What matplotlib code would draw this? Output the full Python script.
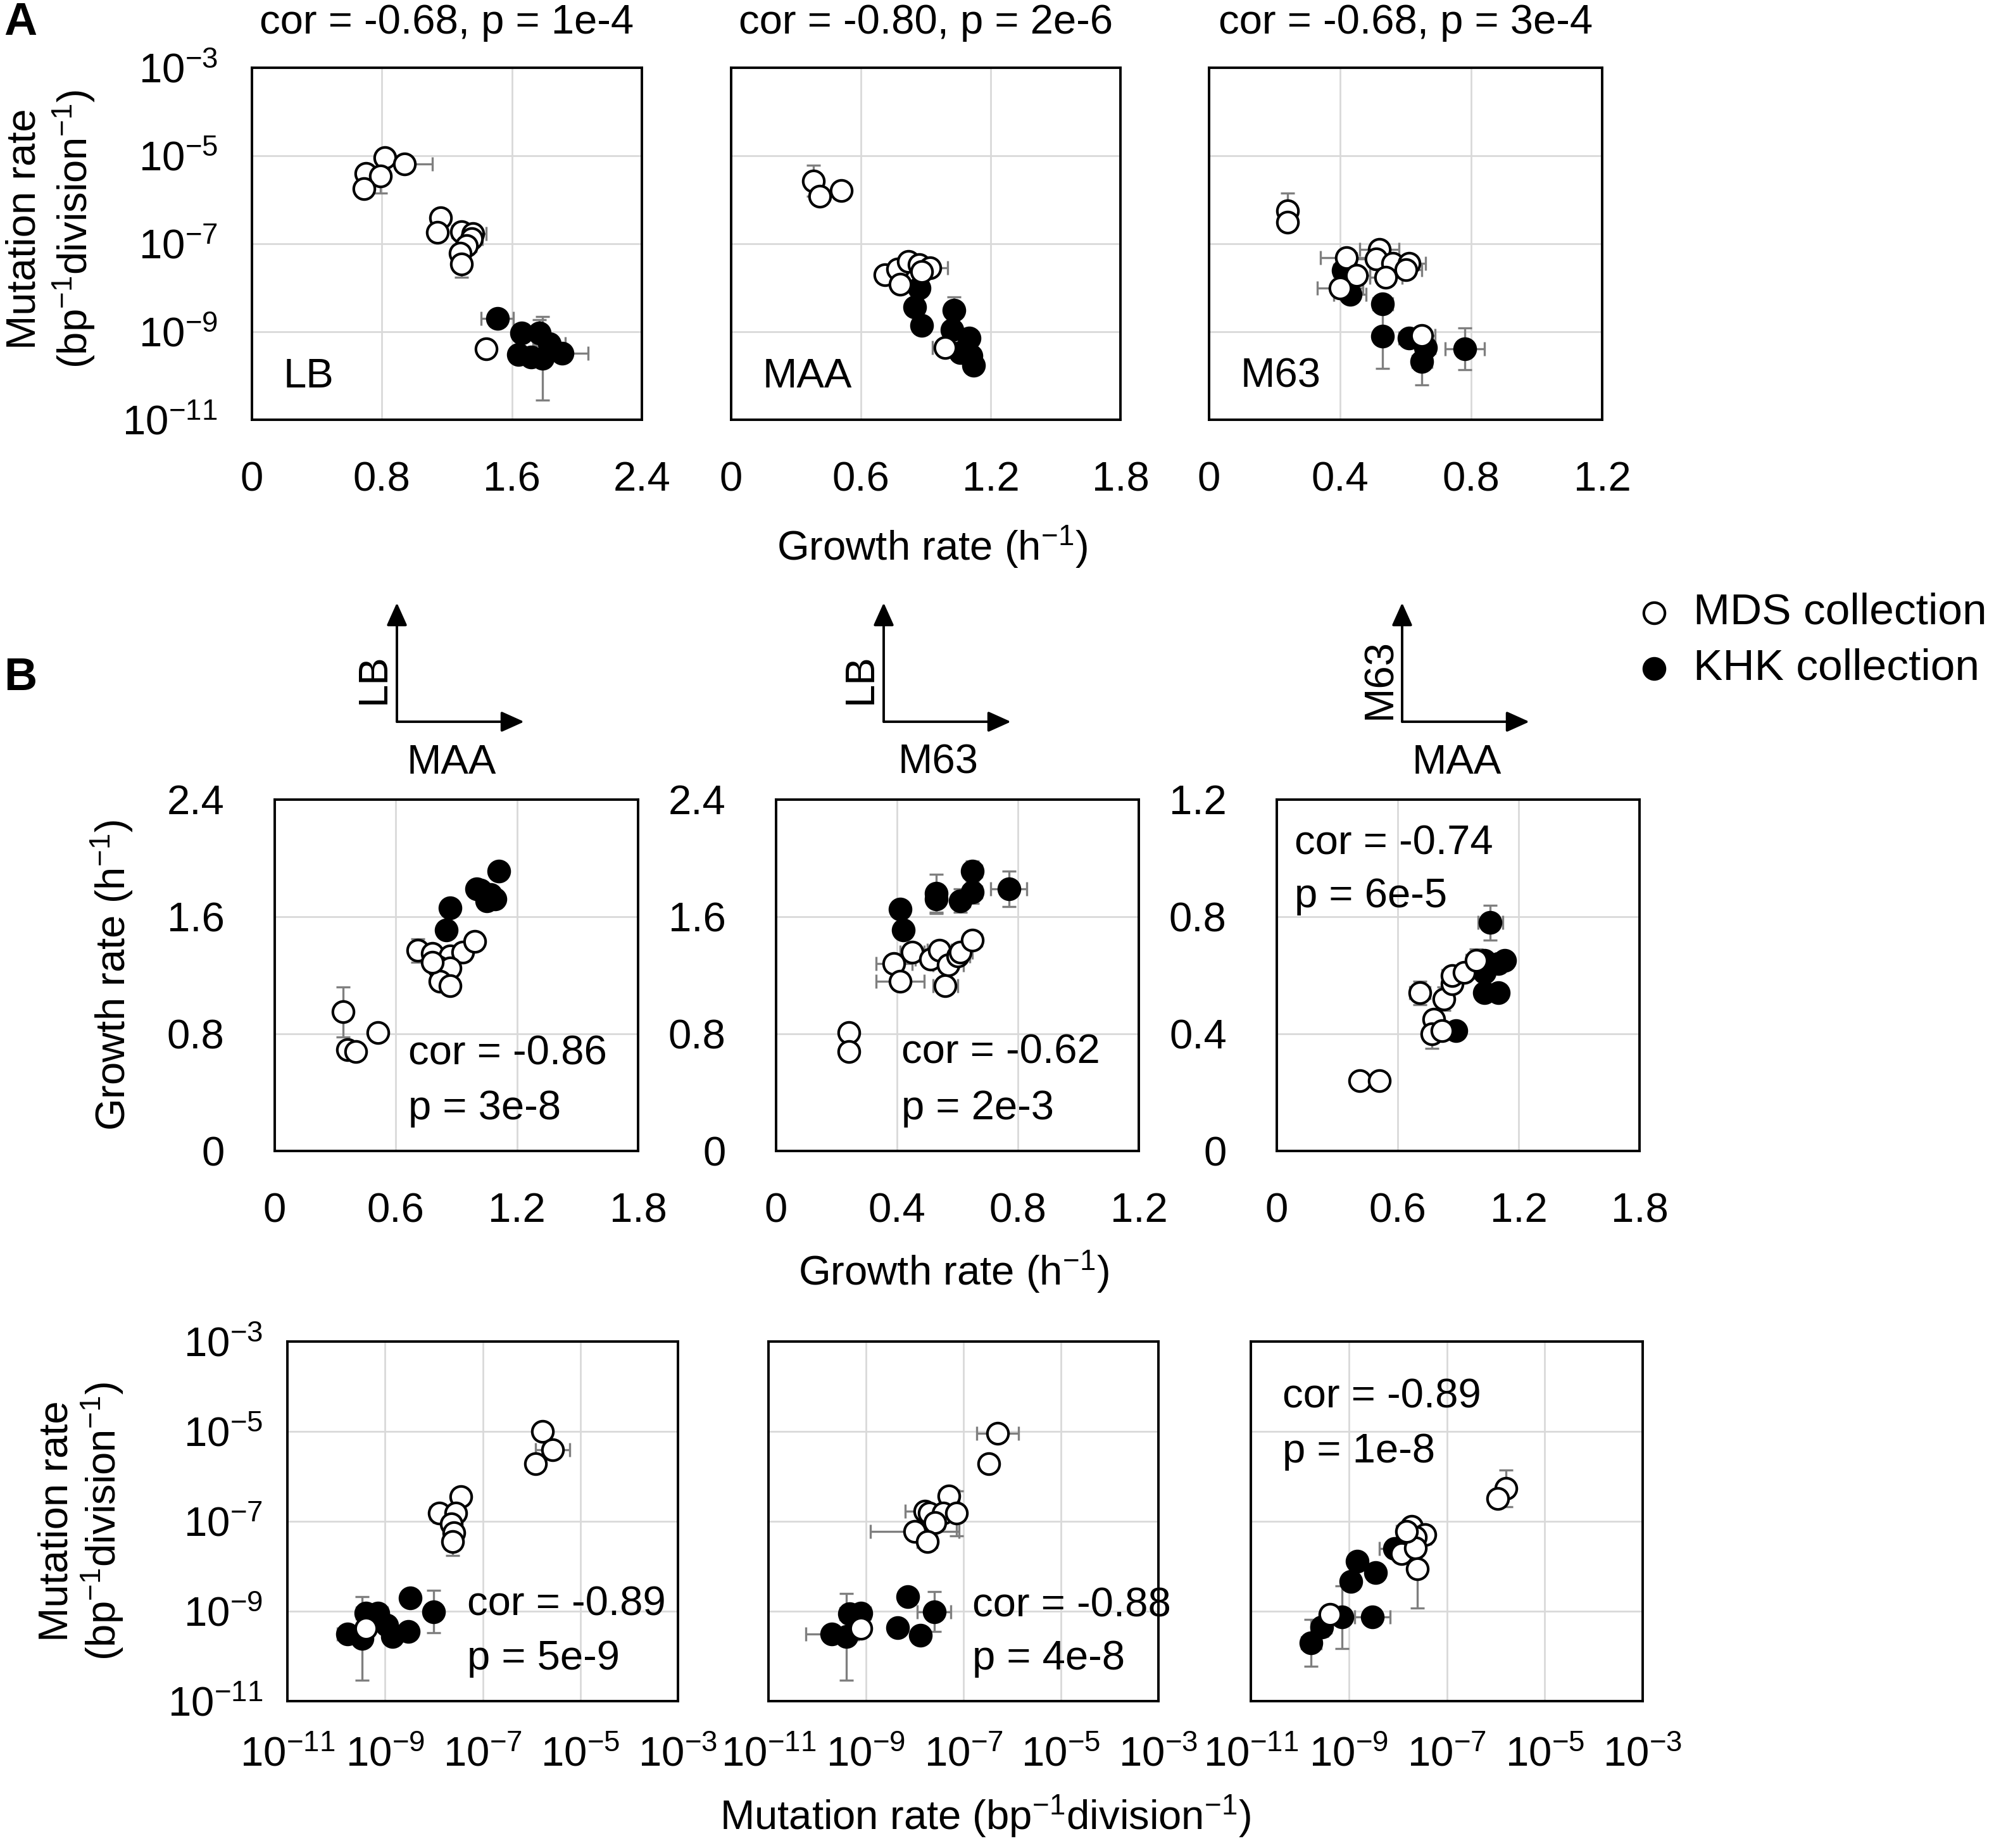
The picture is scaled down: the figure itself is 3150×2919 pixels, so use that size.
import numpy as np
import matplotlib
matplotlib.use("Agg")
from matplotlib import pyplot as plt
from matplotlib.patches import FancyArrowPatch
from matplotlib.lines import Line2D

plt.rcParams['font.family'] = ['Liberation Sans', 'DejaVu Sans']
plt.rcParams['mathtext.default'] = 'regular'

W, H = 3150, 2919
FS = 47
MS = 24

### Daten ###
# Panel A: growth rate (h-1) vs mutation rate (bp-1 division-1), error of mutation rate in decades
lb_mds_gr = [0.82, 0.94, 0.70, 0.79, 0.69, 1.16, 1.14, 1.29, 1.36, 1.35, 1.32, 1.28, 1.29, 1.44]
lb_mds_mr = [9.1e-6, 6.5e-6, 3.9e-6, 3.5e-6, 1.8e-6, 3.9e-7, 1.8e-7, 1.9e-7, 1.7e-7, 1.3e-7, 9.1e-8, 6.0e-8, 3.5e-8, 4.1e-10]
lb_mds_gr_err = [0.05, 0.17, 0.05, 0.05, 0.03, 0.04, 0.04, 0.06, 0.08, 0.07, 0.06, 0.05, 0.04, 0.0]
lb_mds_mr_err = [0.1, 0.1, 0.1, 0.4, 0.1, 0.15, 0.15, 0.2, 0.2, 0.2, 0.2, 0.2, 0.3, 0.0]
lb_khk_gr = [1.51, 1.66, 1.77, 1.64, 1.72, 1.79, 1.91, 1.83]
lb_khk_mr = [2.0e-9, 9.5e-10, 9.5e-10, 3.0e-10, 2.7e-10, 2.5e-10, 3.2e-10, 5.4e-10]
lb_khk_gr_err = [0.1, 0.05, 0.05, 0.05, 0.05, 0.05, 0.16, 0.1]
lb_khk_mr_err = [0.1, 0.2, 0.3, 0.1, 0.1, 0.95, 0.1, 0.2]

maa_mds_gr = [0.38, 0.41, 0.51, 0.71, 0.77, 0.82, 0.87, 0.92, 0.78, 0.88, 0.99]
maa_mds_mr = [2.7e-6, 1.2e-6, 1.6e-6, 2.0e-8, 2.7e-8, 3.9e-8, 3.3e-8, 2.8e-8, 1.2e-8, 2.3e-8, 4.4e-10]
maa_mds_gr_err = [0.0, 0.0, 0.0, 0.04, 0.03, 0.03, 0.03, 0.08, 0.03, 0.03, 0.06]
maa_mds_mr_err = [0.35, 0.0, 0.0, 0.1, 0.1, 0.1, 0.1, 0.1, 0.1, 0.1, 0.15]
maa_khk_gr = [0.87, 0.85, 0.88, 1.03, 1.02, 1.10, 1.06, 1.12, 1.11]
maa_khk_mr = [1.0e-8, 3.6e-9, 1.4e-9, 3.1e-9, 1.1e-9, 7.2e-10, 3.4e-10, 1.7e-10, 2.8e-10]
maa_khk_gr_err = [0.03, 0.03, 0.04, 0.04, 0.04, 0.04, 0.04, 0.04, 0.04]
maa_khk_mr_err = [0.1, 0.1, 0.1, 0.3, 0.15, 0.1, 0.1, 0.1, 0.1]

m63_mds_gr = [0.24, 0.24, 0.42, 0.52, 0.51, 0.56, 0.61, 0.60, 0.45, 0.54, 0.40, 0.65]
m63_mds_mr = [5.6e-7, 3.1e-7, 4.9e-8, 7.4e-8, 4.5e-8, 3.6e-8, 3.6e-8, 2.6e-8, 1.9e-8, 1.7e-8, 9.8e-9, 8.3e-10]
m63_mds_gr_err = [0.02, 0.02, 0.08, 0.06, 0.06, 0.06, 0.05, 0.05, 0.04, 0.05, 0.07, 0.04]
m63_mds_mr_err = [0.4, 0.1, 0.15, 0.15, 0.1, 0.1, 0.1, 0.1, 0.1, 0.1, 0.2, 0.1]
m63_khk_gr = [0.41, 0.43, 0.53, 0.53, 0.61, 0.66, 0.65, 0.78]
m63_khk_mr = [2.5e-8, 7.1e-9, 4.3e-9, 7.9e-10, 7.2e-10, 4.4e-10, 2.1e-10, 4.1e-10]
m63_khk_gr_err = [0.03, 0.05, 0.03, 0.02, 0.03, 0.03, 0.03, 0.06]
m63_khk_mr_err = [0.1, 0.15, 0.1, 0.73, 0.1, 0.1, 0.53, 0.48]

# Panel B oben: growth rate vs growth rate
b1_mds_x = [0.34, 0.36, 0.40, 0.51, 0.71, 0.78, 0.87, 0.93, 0.99, 0.81, 0.87, 0.82, 0.87, 0.78]
b1_mds_y = [0.95, 0.69, 0.68, 0.81, 1.37, 1.35, 1.33, 1.36, 1.43, 1.26, 1.25, 1.16, 1.13, 1.29]
b1_mds_xerr = [0.02, 0.02, 0.02, 0.02, 0.03, 0.03, 0.04, 0.03, 0.03, 0.03, 0.03, 0.03, 0.04, 0.03]
b1_mds_yerr = [0.17, 0.05, 0.05, 0.05, 0.08, 0.06, 0.06, 0.06, 0.06, 0.06, 0.06, 0.05, 0.05, 0.05]
b1_khk_x = [0.87, 0.85, 1.11, 1.02, 1.07, 1.09, 1.05, 1.00]
b1_khk_y = [1.66, 1.51, 1.91, 1.78, 1.75, 1.72, 1.71, 1.79]
b1_khk_xerr = [0.02, 0.02, 0.03, 0.04, 0.03, 0.03, 0.03, 0.03]
b1_khk_yerr = [0.03, 0.03, 0.05, 0.06, 0.05, 0.06, 0.05, 0.05]

b2_mds_x = [0.24, 0.24, 0.39, 0.41, 0.45, 0.51, 0.54, 0.57, 0.60, 0.61, 0.65, 0.56]
b2_mds_y = [0.81, 0.68, 1.28, 1.16, 1.36, 1.31, 1.37, 1.27, 1.33, 1.36, 1.44, 1.13]
b2_mds_xerr = [0.02, 0.02, 0.06, 0.08, 0.04, 0.05, 0.04, 0.05, 0.04, 0.04, 0.03, 0.04]
b2_mds_yerr = [0.04, 0.03, 0.05, 0.05, 0.05, 0.05, 0.06, 0.05, 0.05, 0.06, 0.05, 0.05]
b2_khk_x = [0.41, 0.42, 0.53, 0.53, 0.65, 0.61, 0.65, 0.77]
b2_khk_y = [1.65, 1.51, 1.76, 1.72, 1.91, 1.71, 1.77, 1.79]
b2_khk_xerr = [0.01, 0.01, 0.02, 0.02, 0.03, 0.03, 0.03, 0.06]
b2_khk_yerr = [0.03, 0.03, 0.13, 0.10, 0.07, 0.08, 0.08, 0.12]

b3_mds_x = [0.41, 0.51, 0.71, 0.83, 0.78, 0.77, 0.82, 0.87, 0.87, 0.93, 0.99]
b3_mds_y = [0.24, 0.24, 0.54, 0.52, 0.45, 0.40, 0.41, 0.57, 0.60, 0.61, 0.65]
b3_mds_xerr = [0.02, 0.02, 0.05, 0.04, 0.03, 0.03, 0.03, 0.04, 0.05, 0.05, 0.05]
b3_mds_yerr = [0.01, 0.01, 0.04, 0.04, 0.03, 0.05, 0.03, 0.03, 0.03, 0.03, 0.04]
b3_khk_x = [1.06, 1.03, 1.10, 1.13, 1.03, 1.10, 0.89, 1.03]
b3_khk_y = [0.78, 0.65, 0.64, 0.65, 0.54, 0.54, 0.41, 0.61]
b3_khk_xerr = [0.06, 0.04, 0.04, 0.04, 0.04, 0.04, 0.02, 0.04]
b3_khk_yerr = [0.06, 0.03, 0.03, 0.03, 0.02, 0.02, 0.02, 0.03]

# Panel B unten: mutation rate vs mutation rate (errors in decades)
b4_mds_x = [1.7e-6, 2.7e-6, 1.2e-6, 3.6e-8, 1.3e-8, 2.8e-8, 2.3e-8, 2.6e-8, 2.4e-8, 4.1e-10]
b4_mds_y = [1.0e-5, 3.9e-6, 1.9e-6, 3.5e-7, 1.5e-7, 1.5e-7, 8.9e-8, 5.5e-8, 3.5e-8, 4.1e-10]
b4_mds_xerr = [0.0, 0.35, 0.0, 0.1, 0.2, 0.1, 0.1, 0.1, 0.1, 0.0]
b4_mds_yerr = [0.0, 0.1, 0.0, 0.1, 0.2, 0.1, 0.1, 0.1, 0.3, 0.0]
b4_khk_x = [3.3e-9, 9.8e-9, 4.1e-10, 7.1e-10, 1.1e-9, 1.4e-9, 3.0e-9, 1.7e-10, 3.4e-10]
b4_khk_y = [2.0e-9, 9.8e-10, 9.1e-10, 9.1e-10, 4.9e-10, 2.7e-10, 3.5e-10, 3.1e-10, 2.5e-10]
b4_khk_xerr = [0.1, 0.15, 0.2, 0.2, 0.1, 0.1, 0.1, 0.2, 0.1]
b4_khk_yerr = [0.1, 0.47, 0.2, 0.2, 0.1, 0.1, 0.1, 0.1, 0.93]

b5_mds_x = [5.0e-7, 3.3e-7, 5.1e-8, 1.6e-8, 2.0e-8, 3.8e-8, 7.2e-8, 2.6e-8, 1.0e-8, 1.8e-8, 7.9e-10]
b5_mds_y = [9.1e-6, 1.9e-6, 3.7e-7, 1.7e-7, 1.5e-7, 1.5e-7, 1.5e-7, 9.3e-8, 5.9e-8, 3.5e-8, 4.1e-10]
b5_mds_xerr = [0.43, 0.0, 0.2, 0.4, 0.2, 0.2, 0.1, 0.2, 0.91, 0.2, 0.0]
b5_mds_yerr = [0.1, 0.0, 0.1, 0.1, 0.1, 0.1, 0.5, 0.1, 0.1, 0.15, 0.0]
b5_khk_x = [7.1e-9, 2.5e-8, 4.6e-10, 7.8e-10, 4.5e-9, 1.3e-8, 2.0e-10, 3.9e-10]
b5_khk_y = [2.1e-9, 9.8e-10, 8.7e-10, 9.1e-10, 4.3e-10, 2.9e-10, 3.1e-10, 2.7e-10]
b5_khk_xerr = [0.15, 0.34, 0.2, 0.2, 0.1, 0.1, 0.54, 0.1]
b5_khk_yerr = [0.1, 0.44, 0.2, 0.2, 0.1, 0.1, 0.1, 0.96]

b6_mds_x = [1.6e-6, 1.1e-6, 1.9e-8, 3.6e-8, 2.3e-8, 1.2e-8, 2.3e-8, 2.5e-8, 4.1e-10, 1.5e-8]
b6_mds_y = [5.4e-7, 3.2e-7, 7.6e-8, 5.0e-8, 4.5e-8, 1.9e-8, 2.6e-8, 8.9e-9, 8.5e-10, 5.9e-8]
b6_mds_xerr = [0.1, 0.0, 0.15, 0.15, 0.1, 0.15, 0.15, 0.1, 0.15, 0.2]
b6_mds_yerr = [0.41, 0.0, 0.1, 0.2, 0.1, 0.2, 0.2, 0.88, 0.2, 0.1]
b6_khk_x = [1.5e-9, 1.1e-9, 3.5e-9, 8.5e-9, 3.0e-9, 7.2e-10, 2.8e-10, 1.7e-10]
b6_khk_y = [1.3e-8, 4.6e-9, 7.2e-9, 2.5e-8, 7.4e-10, 7.4e-10, 4.4e-10, 2.0e-10]
b6_khk_xerr = [0.1, 0.1, 0.1, 0.3, 0.36, 0.1, 0.2, 0.2]
b6_khk_yerr = [0.1, 0.1, 0.2, 0.2, 0.1, 0.7, 0.2, 0.52]

log_ticks = [1e-11, 1e-9, 1e-7, 1e-5, 1e-3]
log_labels = [r'$10^{-11}$', r'$10^{-9}$', r'$10^{-7}$', r'$10^{-5}$', r'$10^{-3}$']


def box(l, t, r, b):
    # Pixelkoordinaten -> Figure-Koordinaten
    return [l / W, 1 - b / H, (r - l) / W, (b - t) / H]


def err(v, e, log):
    v = np.asarray(v, float)
    e = np.asarray(e, float)
    if log:
        return [v - v / 10 ** e, v * 10 ** e - v]
    return e


def series(ax, x, y, xe, ye, filled, logx, logy):
    ax.errorbar(x, y, xerr=err(x, xe, logx), yerr=err(y, ye, logy), fmt='none',
                ecolor='#7f7f7f', elinewidth=2.4, capsize=8, capthick=2.4, zorder=2)
    ax.plot(x, y, 'o', ls='none', ms=MS, mew=3, mec='black',
            mfc='black' if filled else 'white', zorder=3)


def setup(ax, lim_x, ticks_x, lim_y, ticks_y, logx, logy, show_y, xpad, ypad):
    if logx:
        ax.set_xscale('log')
    if logy:
        ax.set_yscale('log')
    ax.set_xlim(lim_x)
    ax.set_ylim(lim_y)
    ax.set_xticks(ticks_x)
    ax.set_yticks(ticks_y)
    if logx:
        ax.set_xticklabels(log_labels)
    else:
        ax.set_xticklabels([('%g' % t) for t in ticks_x])
    if logy:
        ax.set_yticklabels(log_labels)
    else:
        ax.set_yticklabels([('%g' % t) for t in ticks_y])
    ax.xaxis.set_minor_locator(plt.NullLocator())
    ax.yaxis.set_minor_locator(plt.NullLocator())
    ax.grid(True, color='#d9d9d9', lw=2.0)
    ax.set_axisbelow(True)
    for s in ax.spines.values():
        s.set_linewidth(2.8)
    ax.tick_params(axis='x', length=0, labelsize=FS, pad=xpad)
    ax.tick_params(axis='y', length=0, labelsize=FS, pad=ypad, labelleft=show_y)


def both(ax, mds, khk, logx, logy):
    series(ax, *khk, True, logx, logy)
    series(ax, *mds, False, logx, logy)


fig = plt.figure(figsize=(W / 100, H / 100), dpi=100)

# ---- Panel A ----
a_boxes = [(398, 107, 1014, 663), (1155, 107, 1770, 663), (1910, 107, 2531, 663)]
a_xlim = [(0, 2.4), (0, 1.8), (0, 1.2)]
a_xticks = [[0, 0.8, 1.6, 2.4], [0, 0.6, 1.2, 1.8], [0, 0.4, 0.8, 1.2]]
a_titles = ['cor = -0.68, p = 1e-4', 'cor = -0.80, p = 2e-6', 'cor = -0.68, p = 3e-4']
a_names = ['LB', 'MAA', 'M63']
a_data = [
    ((lb_mds_gr, lb_mds_mr, lb_mds_gr_err, lb_mds_mr_err), (lb_khk_gr, lb_khk_mr, lb_khk_gr_err, lb_khk_mr_err)),
    ((maa_mds_gr, maa_mds_mr, maa_mds_gr_err, maa_mds_mr_err), (maa_khk_gr, maa_khk_mr, maa_khk_gr_err, maa_khk_mr_err)),
    ((m63_mds_gr, m63_mds_mr, m63_mds_gr_err, m63_mds_mr_err), (m63_khk_gr, m63_khk_mr, m63_khk_gr_err, m63_khk_mr_err)),
]
for i in range(3):
    l, t, r, b = a_boxes[i]
    ax = fig.add_axes(box(l, t, r, b))
    setup(ax, a_xlim[i], a_xticks[i], (1e-11, 1e-3), log_ticks, False, True, i == 0, 47, 39)
    mds, khk = a_data[i]
    # x linear, y in decades
    series(ax, khk[0], khk[1], khk[2], khk[3], True, False, True)
    series(ax, mds[0], mds[1], mds[2], mds[3], False, False, True)
    fig.text((l + r) / 2 / W, 1 - 36 / H, a_titles[i], ha='center', va='center', fontsize=FS)
    fig.text((l + 50) / W, 1 - 595 / H, a_names[i], ha='left', va='center', fontsize=FS)

fig.text(1473 / W, 1 - 864 / H, 'Growth rate (h$^{-1}$)', ha='center', va='center', fontsize=FS)
fig.text(39 / W, 1 - 362 / H, 'Mutation rate', rotation=90, ha='center', va='center', fontsize=FS)
fig.text(117 / W, 1 - 362 / H, '(bp$^{-1}$division$^{-1}$)', rotation=90, ha='center', va='center', fontsize=FS)

# ---- Panel B, obere Reihe ----
b_boxes = [(434, 1263, 1008, 1818), (1226, 1263, 1799, 1818), (2017, 1263, 2590, 1818)]
b_xlim = [(0, 1.8), (0, 1.2), (0, 1.8)]
b_xticks = [[0, 0.6, 1.2, 1.8], [0, 0.4, 0.8, 1.2], [0, 0.6, 1.2, 1.8]]
b_ylim = [(0, 2.4), (0, 2.4), (0, 1.2)]
b_yticks = [[0, 0.8, 1.6, 2.4], [0, 0.8, 1.6, 2.4], [0, 0.4, 0.8, 1.2]]
b_data = [
    ((b1_mds_x, b1_mds_y, b1_mds_xerr, b1_mds_yerr), (b1_khk_x, b1_khk_y, b1_khk_xerr, b1_khk_yerr)),
    ((b2_mds_x, b2_mds_y, b2_mds_xerr, b2_mds_yerr), (b2_khk_x, b2_khk_y, b2_khk_xerr, b2_khk_yerr)),
    ((b3_mds_x, b3_mds_y, b3_mds_xerr, b3_mds_yerr), (b3_khk_x, b3_khk_y, b3_khk_xerr, b3_khk_yerr)),
]
b_cor = [('cor = -0.86', 'p = 3e-8', 645, 1664, 1751),
         ('cor = -0.62', 'p = 2e-3', 1424, 1662, 1751),
         ('cor = -0.74', 'p = 6e-5', 2045, 1333, 1416)]
for i in range(3):
    ax = fig.add_axes(box(*b_boxes[i]))
    setup(ax, b_xlim[i], b_xticks[i], b_ylim[i], b_yticks[i], False, False, True, 47, 57)
    mds, khk = b_data[i]
    both(ax, mds, khk, False, False)
    c, p, x, y1, y2 = b_cor[i]
    fig.text(x / W, 1 - y1 / H, c, ha='left', va='center', fontsize=FS)
    fig.text(x / W, 1 - y2 / H, p, ha='left', va='center', fontsize=FS)

fig.text(1507 / W, 1 - 2009 / H, 'Growth rate (h$^{-1}$)', ha='center', va='center', fontsize=FS)
fig.text(177 / W, 1 - 1540 / H, 'Growth rate (h$^{-1}$)', rotation=90, ha='center', va='center', fontsize=FS)

# ---- Panel B, untere Reihe ----
c_boxes = [(454, 2119, 1071, 2687), (1214, 2119, 1830, 2687), (1976, 2119, 2595, 2687)]
c_data = [
    ((b4_mds_x, b4_mds_y, b4_mds_xerr, b4_mds_yerr), (b4_khk_x, b4_khk_y, b4_khk_xerr, b4_khk_yerr)),
    ((b5_mds_x, b5_mds_y, b5_mds_xerr, b5_mds_yerr), (b5_khk_x, b5_khk_y, b5_khk_xerr, b5_khk_yerr)),
    ((b6_mds_x, b6_mds_y, b6_mds_xerr, b6_mds_yerr), (b6_khk_x, b6_khk_y, b6_khk_xerr, b6_khk_yerr)),
]
c_cor = [('cor = -0.89', 'p = 5e-9', 738, 2535, 2620),
         ('cor = -0.88', 'p = 4e-8', 1536, 2537, 2620),
         ('cor = -0.89', 'p = 1e-8', 2026, 2206, 2293)]
for i in range(3):
    ax = fig.add_axes(box(*c_boxes[i]))
    setup(ax, (1e-11, 1e-3), log_ticks, (1e-11, 1e-3), log_ticks, True, True, i == 0, 40, 28)
    mds, khk = c_data[i]
    both(ax, mds, khk, True, True)
    c, p, x, y1, y2 = c_cor[i]
    fig.text(x / W, 1 - y1 / H, c, ha='left', va='center', fontsize=FS)
    fig.text(x / W, 1 - y2 / H, p, ha='left', va='center', fontsize=FS)

fig.text(1557 / W, 1 - 2869 / H, 'Mutation rate (bp$^{-1}$division$^{-1}$)', ha='center', va='center', fontsize=FS)
fig.text(90 / W, 1 - 2403 / H, 'Mutation rate', rotation=90, ha='center', va='center', fontsize=FS)
fig.text(162 / W, 1 - 2403 / H, '(bp$^{-1}$division$^{-1}$)', rotation=90, ha='center', va='center', fontsize=FS)

# ---- Achsen-Pfeile ----
arrows = [(627, 'LB', 591, 'MAA'), (1396, 'LB', 1360, 'M63'), (2215, 'M63', 2180, 'MAA')]
for cx, ylab, lx, xlab in arrows:
    for end in [(cx, 952), (cx + 201, 1140)]:
        fig.add_artist(FancyArrowPatch((cx / W, 1 - 1140 / H), (end[0] / W, 1 - end[1] / H),
                                       transform=fig.transFigure, arrowstyle='-|>,head_length=1.0,head_width=0.45',
                                       mutation_scale=22, lw=2.8, color='black', shrinkA=0, shrinkB=0))
    fig.text(lx / W, 1 - 1072 / H, ylab, rotation=90, ha='center', va='center', fontsize=FS)
    fig.text((cx + 86) / W, 1 - 1205 / H, xlab, ha='center', va='center', fontsize=FS)

# ---- Legende ----
for yy, fc, lab in [(968, 'white', 'MDS collection'), (1056, 'black', 'KHK collection')]:
    fig.add_artist(Line2D([2613 / W], [1 - yy / H], transform=fig.transFigure, marker='o', ms=MS,
                          mew=3, mec='black', mfc=fc, ls='none'))
    fig.text(2675 / W, 1 - yy / H, lab, ha='left', va='center', fontsize=50)

fig.text(6 / W, 1 - 36 / H, 'A', ha='left', va='center', fontsize=52, fontweight='bold')
fig.text(6 / W, 1 - 1071 / H, 'B', ha='left', va='center', fontsize=52, fontweight='bold')

fig.savefig('out.png', dpi=100)
